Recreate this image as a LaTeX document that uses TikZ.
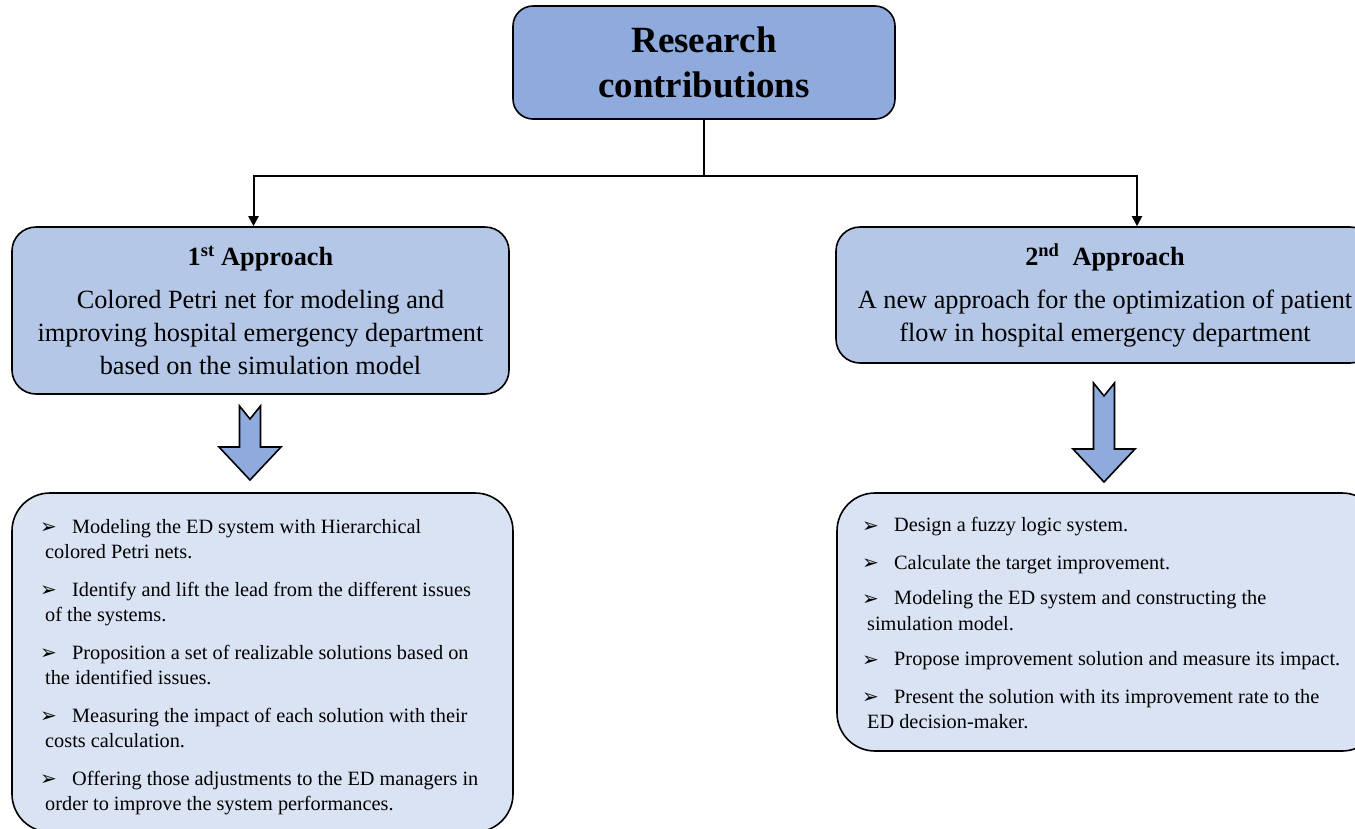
\documentclass[tikz,border=0pt]{standalone}
\usepackage{fontspec}
\setmainfont{Liberation Serif}
\newfontfamily\symfont{DejaVu Sans}
\usetikzlibrary{arrows.meta,calc}

\definecolor{headfill}{HTML}{8FAADC}
\definecolor{appfill}{HTML}{B4C7E7}
\definecolor{listfill}{HTML}{DAE3F3}

% list bullet followed by the gap before the item text
\newcommand\itembul{\makebox[32pt][l]{\raisebox{-0.5pt}{\symfont\fontsize{20}{20}\selectfont ➢}}}
\newcommand\contline{\\\hspace*{5pt}}

% wide block arrow pointing down: x, top, tip
\newcommand\downblock[3]{%
  \filldraw[blockarrow] (#1-10.5,#2) -- (#1,#2+13) -- (#1+10.5,#2)
    -- (#1+10.5,#3-33) -- (#1+31,#3-33) -- (#1,#3) -- (#1-31,#3-33)
    -- (#1-10.5,#3-33) -- cycle;}

\tikzset{
  box/.style={draw=black, line width=1.6pt, align=center, inner sep=0pt},
  topbox/.style={box, fill=headfill, rounded corners=20pt,
    font=\fontsize{37}{45}\selectfont\bfseries},
  appbox/.style={box, fill=appfill, rounded corners=24pt,
    font=\fontsize{26.3}{33}\selectfont},
  listbox/.style={box, fill=listfill, rounded corners=38pt},
  listtext/.style={align=left, inner sep=0pt,
    font=\fontsize{20.3}{25.5}\selectfont},
  conn/.style={draw=black, line width=2pt},
  tip/.style={-{Triangle[width=10pt,length=10pt]}},
  blockarrow/.style={fill=headfill, draw=black, line width=1.6pt, line join=miter}
}

\begin{document}
\begin{tikzpicture}[x=1pt,y=-1pt]
\useasboundingbox (0,0) rectangle (1355,828);

% title
\node[topbox, minimum width=382pt, minimum height=113pt] (rc) at (704,62.5)
  {Research\\contributions};

% the two approaches
\node[appbox, minimum width=497pt, minimum height=167pt] (a1) at (260.5,310.5)
  {{\bfseries 1\textsuperscript{st} Approach}\\[10pt]
   Colored Petri net for modeling and\\
   improving hospital emergency department\\
   based on the simulation model};
\node[appbox, minimum width=538pt, minimum height=136pt] (a2) at (1105,295)
  {{\bfseries 2\textsuperscript{nd}\ \ Approach}\\[10pt]
   A new approach for the optimization of patient\\
   flow in hospital emergency department};

% splitting connector
\draw[conn] (rc.south) -- ($(rc.south)+(0,56)$) coordinate (split);
\draw[conn, tip] (split) -| ([xshift=-7pt]a1.north);
\draw[conn, tip] (split) -| ([xshift=32pt]a2.north);

% steps of each approach
\node[listbox, minimum width=501pt, minimum height=339pt] (l1) at (262.5,662.5) {};
\node[listbox, minimum width=543pt, minimum height=258pt] (l2) at (1108.5,622) {};

\node[listtext, anchor=north west] (t1) at (40,519)
  {\itembul Modeling the ED system with Hierarchical\contline colored Petri nets.\\[12pt]
   \itembul Identify and lift the lead from the different issues\contline of the systems.\\[12pt]
   \itembul Proposition a set of realizable solutions based on\contline the identified issues.\\[12pt]
   \itembul Measuring the impact of each solution with their\contline costs calculation.\\[12pt]
   \itembul Offering those adjustments to the ED managers in\contline order to improve the system performances.};

\node[listtext, anchor=north west] (t2) at (862,517)
  {\itembul Design a fuzzy logic system.\\[12pt]
   \itembul Calculate the target improvement.\\[10pt]
   \itembul Modeling the ED system and constructing the\contline simulation model.\\[10pt]
   \itembul Propose improvement solution and measure its impact.\\[12pt]
   \itembul Present the solution with its improvement rate to the\contline ED decision-maker.};

% block arrows between approach and its steps
\downblock{250}{406}{480}
\downblock{1104}{383}{482}
\end{tikzpicture}
\end{document}
